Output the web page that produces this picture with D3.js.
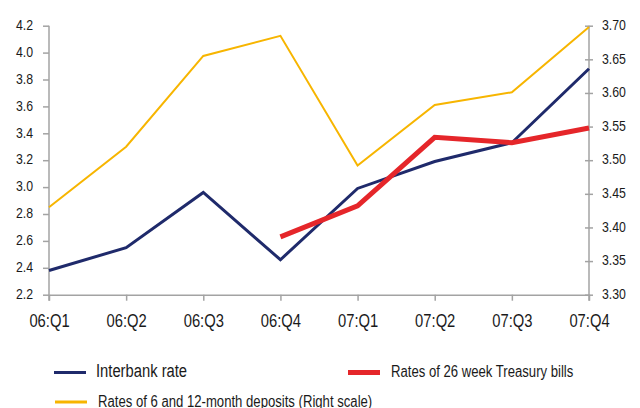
<!DOCTYPE html>
<html>
<head>
<meta charset="utf-8">
<script src="https://cdn.jsdelivr.net/npm/d3@7"></script>
<style>
  body { margin: 0; background: #fff; }
  svg text { font-family: "Liberation Sans", sans-serif; fill: #1a1a1a; }
</style>
</head>
<body>
<div id="chart"></div>
<script>
const quarters = ["06:Q1", "06:Q2", "06:Q3", "06:Q4", "07:Q1", "07:Q2", "07:Q3", "07:Q4"];
const interbank = [2.38, 2.55, 2.96, 2.46, 2.99, 3.19, 3.33, 3.88];
const treasury = [null, null, null, 2.63, 2.86, 3.37, 3.33, 3.44];
const deposits = [3.43, 3.52, 3.655, 3.685, 3.492, 3.582, 3.601, 3.698];
const leftTicks = [2.2, 2.4, 2.6, 2.8, 3.0, 3.2, 3.4, 3.6, 3.8, 4.0, 4.2];
const rightTicks = [3.30, 3.35, 3.40, 3.45, 3.50, 3.55, 3.60, 3.65, 3.70];

const width = 640, height = 408;
const plotLeft = 49, plotRight = 589, plotTop = 25.7, plotBottom = 294.7;
const axisColor = "#a3a3a3";

var svg = d3.select("#chart").append("svg")
  .attr("width", width)
  .attr("height", height);

var x = d3.scalePoint().domain(quarters).range([plotLeft, plotRight]);
var yL = d3.scaleLinear().domain([2.2, 4.2]).range([plotBottom, plotTop]);
var yR = d3.scaleLinear().domain([3.30, 3.70]).range([plotBottom, plotTop]);

// x axis
var gx = svg.append("g")
  .attr("transform", "translate(0," + plotBottom + ")")
  .call(d3.axisBottom(x).tickSize(6).tickSizeOuter(0).tickPadding(14));
gx.selectAll("text").style("font-size", "18px");

// left axis
var gl = svg.append("g")
  .attr("transform", "translate(" + plotLeft + ",0)")
  .call(d3.axisLeft(yL).tickValues(leftTicks).tickFormat(d3.format(".1f"))
    .tickSize(6).tickSizeOuter(0).tickPadding(10));
gl.selectAll("text").style("font-size", "15px").attr("dy", "0.25em");

// right axis, ticks cross the line
var gr = svg.append("g")
  .attr("transform", "translate(" + plotRight + ",0)")
  .call(d3.axisRight(yR).tickValues(rightTicks).tickFormat(d3.format(".2f"))
    .tickSize(4).tickSizeOuter(0).tickPadding(9));
gr.selectAll(".tick line").attr("x1", -4);
gr.selectAll("text").style("font-size", "15px").attr("dy", "0.25em");

// extend vertical axes a bit below the baseline
[gl, gr].forEach(function (g) {
  g.select(".domain").attr("d", "M0," + plotTop + "V" + (plotBottom + 6));
});

svg.selectAll(".domain, .tick line")
  .attr("stroke", axisColor)
  .attr("stroke-width", 1.5);

// lines
var lineL = d3.line()
  .defined((d) => d != null)
  .x((d, i) => x(quarters[i]))
  .y((d) => yL(d));
var lineR = d3.line()
  .x((d, i) => x(quarters[i]))
  .y((d) => yR(d));

svg.append("path").datum(deposits)
  .attr("fill", "none").attr("stroke", "#f7b500").attr("stroke-width", 2)
  .attr("d", lineR);

svg.append("path").datum(interbank)
  .attr("fill", "none").attr("stroke", "#1f2a6b").attr("stroke-width", 3)
  .attr("d", lineL);

svg.append("path").datum(treasury)
  .attr("fill", "none").attr("stroke", "#e5262a").attr("stroke-width", 5)
  .attr("d", lineL);

// legend
var legend = [
  { label: "Interbank rate", color: "#1f2a6b", w: 3, x: 54, y: 372.5, size: 18 },
  { label: "Rates of 26 week Treasury bills", color: "#e5262a", w: 5, x: 348, y: 372.5, size: 16 },
  { label: "Rates of 6 and 12-month deposits (Right scale)", color: "#f7b500", w: 3, x: 55, y: 402, size: 16 }
];
var lg = svg.append("g").selectAll("g").data(legend).enter().append("g");
lg.append("line")
  .attr("x1", (d) => d.x).attr("x2", (d) => d.x + 32)
  .attr("y1", (d) => d.y).attr("y2", (d) => d.y)
  .attr("stroke", (d) => d.color).attr("stroke-width", (d) => d.w);
lg.append("text")
  .attr("x", (d, i) => (i == 0 ? 96 : i == 1 ? 391 : 98))
  .attr("y", (d, i) => (i == 2 ? 406.5 : 376.7))
  .style("font-size", (d) => d.size + "px")
  .text((d) => d.label);

// the original type is a condensed face: squeeze every label
svg.selectAll("text").each(function () {
  var len = this.getComputedTextLength();
  d3.select(this)
    .attr("textLength", len * 0.82)
    .attr("lengthAdjust", "spacingAndGlyphs");
});
</script>
</body>
</html>
